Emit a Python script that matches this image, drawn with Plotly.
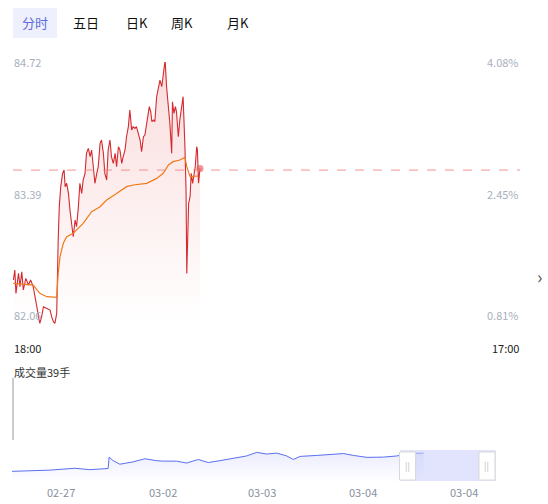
import plotly.graph_objs as go

# main intraday chart (minutes after 18:00)
t_min = [1, 5, 8, 15, 19, 24, 28, 35, 42, 48, 55, 60, 64, 69, 73, 78, 83, 92, 101, 105, 110, 114, 119, 123,
         126, 130, 135, 139, 142, 146, 151, 155, 160, 164, 169, 173, 178, 182, 187, 191, 196, 200, 205, 210,
         214, 219, 223, 228, 232, 237, 241, 246, 250, 255, 259, 264, 268, 273, 278, 282, 287, 291, 296, 300,
         305, 309, 314, 318, 323, 327, 332, 336, 341, 346, 350, 355, 359, 364, 368, 371, 375, 378, 382, 386,
         391, 395, 400, 405, 409, 414, 418, 423, 427, 432, 434, 438, 442, 445, 450, 454, 459, 463, 468, 471,
         473, 475, 478, 482, 485, 489, 492, 496, 500, 502, 505, 509]
price = [82.515, 82.616, 82.380, 82.582, 82.448, 82.599, 82.414, 82.532, 82.464, 82.515, 82.448, 82.346,
         82.245, 82.144, 82.077, 82.144, 82.245, 82.228, 82.211, 82.144, 82.093, 82.077, 82.178, 82.919,
         83.257, 83.459, 83.594, 83.627, 83.459, 83.493, 83.391, 83.223, 83.054, 82.953, 83.122, 83.054,
         83.257, 83.493, 83.391, 83.526, 83.594, 83.796, 83.846, 83.762, 83.830, 83.661, 83.493, 83.594,
         83.661, 83.897, 83.931, 83.796, 83.594, 83.526, 83.830, 83.931, 83.762, 83.695, 83.796, 83.661,
         83.863, 83.830, 83.695, 83.762, 83.830, 83.964, 84.066, 84.234, 84.032, 84.066, 84.049, 84.066,
         83.998, 83.931, 83.813, 83.964, 83.981, 84.099, 84.167, 84.268, 84.217, 84.116, 84.133, 84.116,
         84.369, 84.436, 84.537, 84.470, 84.571, 84.740, 84.470, 84.268, 84.099, 83.796, 84.318, 84.200,
         84.268, 84.217, 83.964, 84.133, 84.268, 84.369, 83.863, 83.425, 82.582, 83.054, 83.290, 83.358,
         83.594, 83.493, 83.560, 83.661, 83.863, 83.830, 83.493, 83.644]
avg_t = [1, 55, 73, 92, 119, 123, 128, 137, 146, 164, 191, 214, 237, 255, 282, 309, 327, 364, 391, 409,
         423, 436, 454, 468, 473, 482, 504]
avg_price = [82.481, 82.464, 82.380, 82.346, 82.340, 82.582, 82.751, 82.886, 82.953, 82.987, 83.088,
             83.206, 83.257, 83.324, 83.391, 83.459, 83.476, 83.493, 83.543, 83.594, 83.678, 83.712,
             83.729, 83.755, 83.661, 83.560, 83.567]
ref_price = 83.627
y_ticks = [82.06, 83.39, 84.72]
pct_labels = ["0.81%", "2.45%", "4.08%"]

# navigator overview
nav_x = [37, 150, 225, 270, 325, 328, 340, 360, 400, 435, 470, 490, 530, 560, 595, 625, 660, 700, 740,
         770, 800, 830, 860, 880, 900, 950, 1000, 1030, 1060, 1100, 1150, 1190, 1230, 1270]
nav_y = [45, 50, 58, 52, 57, 105, 90, 75, 85, 98, 90, 88, 88, 80, 95, 82, 90, 100, 110, 125, 118, 122,
         110, 95, 108, 112, 118, 120, 112, 104, 105, 110, 120, 122]
nav_labels = ["02-27", "03-02", "03-03", "03-04", "03-04"]
nav_label_x = [185, 490, 785, 1090, 1390]

tabs = ["分时", "五日", "日K", "周K", "月K"]
tab_x = [35, 86, 137, 182, 238]

W, H = 548, 504
def px(x): return x / W
def py(y): return 1 - y / H

fig = go.Figure()
fig.add_trace(go.Scatter(x=[t_min[0], t_min[-1]], y=[y_ticks[0]] * 2, mode="lines",
                         line=dict(width=0), hoverinfo="skip", showlegend=False))
fig.add_trace(go.Scatter(x=t_min, y=price, mode="lines", line=dict(color="#d42a30", width=1.1),
                         fill="tonexty",
                         fillgradient=dict(type="vertical",
                                           colorscale=[[0, "rgba(230,80,80,0)"], [1, "rgba(230,80,80,0.2)"]]),
                         showlegend=False))
fig.add_trace(go.Scatter(x=avg_t, y=avg_price, mode="lines", line=dict(color="#f07a1a", width=1.2),
                         showlegend=False))
fig.add_trace(go.Scatter(x=[t_min[-1]], y=[price[-1]], mode="markers",
                         marker=dict(color="rgba(230,80,80,0.6)", size=7), showlegend=False))

fig.add_trace(go.Scatter(x=nav_x, y=nav_y, mode="lines", line=dict(color="#5b6ff0", width=1),
                         fill="tozeroy",
                         fillgradient=dict(type="vertical",
                                           colorscale=[[0, "rgba(120,130,240,0)"], [1, "rgba(120,130,240,0.15)"]]),
                         xaxis="x2", yaxis="y2", showlegend=False))

fig.update_layout(
    width=W, height=H, margin=dict(l=0, r=0, t=0, b=0, autoexpand=False),
    plot_bgcolor="white", paper_bgcolor="white",
    font=dict(family="Noto Sans CJK SC", size=12),
    xaxis=dict(domain=[px(13), px(520)], range=[0, 1380], showticklabels=False,
               showgrid=False, zeroline=False),
    yaxis=dict(domain=[py(325), py(62)], range=[82.06, 84.72], showticklabels=False,
               showgrid=False, zeroline=False),
    xaxis2=dict(domain=[px(12), px(496)], range=[37, 1487], anchor="y2", showticklabels=False,
                showgrid=False, zeroline=False),
    yaxis2=dict(domain=[py(482), py(450)], range=[0, 135], anchor="x2", showticklabels=False,
                showgrid=False, zeroline=False),
)

shapes = [
    dict(type="line", xref="x", yref="y", x0=0, x1=1380, y0=ref_price, y1=ref_price,
         line=dict(color="rgba(240,120,120,0.8)", width=1, dash="dash")),
    dict(type="rect", xref="paper", yref="paper", x0=px(13), x1=px(57), y0=py(38), y1=py(8),
         fillcolor="#eef0fd", line=dict(width=0), layer="below"),
    dict(type="line", xref="paper", yref="paper", x0=px(13), x1=px(13), y0=py(440), y1=py(378),
         line=dict(color="#999", width=1)),
    dict(type="rect", xref="x2", yref="paper", x0=1200, x1=1487, y0=py(481), y1=py(450),
         fillcolor="rgba(200,205,250,0.55)", line=dict(width=0)),
]
for hx in [1222, 1460]:
    shapes.append(dict(type="rect", xref="x2", yref="paper", x0=hx - 24, x1=hx + 24, y0=py(480), y1=py(452),
                       fillcolor="white", line=dict(color="#d8d8d8", width=1)))
fig.update_layout(shapes=shapes)

ann = []
for i, (lab, x) in enumerate(zip(tabs, tab_x)):
    ann.append(dict(text=lab, x=px(x), y=py(23), xref="paper", yref="paper", showarrow=False,
                    xanchor="center", yanchor="middle",
                    font=dict(size=13, color="#5b6bdb" if i == 0 else "#111")))
for v, p in zip(y_ticks, pct_labels):
    ann.append(dict(text=f"{v:.2f}", x=px(12), xanchor="left", y=v, yref="y", xref="paper",
                    yanchor="bottom" if v == y_ticks[0] else "middle", showarrow=False,
                    font=dict(size=11, color="#a8b0bc")))
    ann.append(dict(text=p, x=px(521), xanchor="right", y=v, yref="y", xref="paper",
                    yanchor="bottom" if v == y_ticks[0] else "middle", showarrow=False,
                    font=dict(size=11, color="#a8b0bc")))
ann.append(dict(text="18:00", x=px(12), xanchor="left", y=py(348), xref="paper", yref="paper",
                yanchor="middle", showarrow=False, font=dict(size=11, color="#222")))
ann.append(dict(text="17:00", x=px(521), xanchor="right", y=py(348), xref="paper", yref="paper",
                yanchor="middle", showarrow=False, font=dict(size=11, color="#222")))
ann.append(dict(text="成交量39手", x=px(12), xanchor="left", y=py(372), xref="paper", yref="paper",
                yanchor="middle", showarrow=False, font=dict(size=11, color="#333")))
ann.append(dict(text="›", x=px(539), y=py(276), xref="paper", yref="paper", showarrow=False,
                xanchor="center", yanchor="middle", font=dict(size=18, color="#555")))
for lab, x in zip(nav_labels, nav_label_x):
    ann.append(dict(text=lab, x=x, xref="x2", y=py(492), yref="paper", showarrow=False,
                    xanchor="center", yanchor="middle", font=dict(size=11, color="#8890a0")))
for hx in [1222, 1460]:
    ann.append(dict(text="||", x=hx, xref="x2", y=py(466), yref="paper", showarrow=False,
                    xanchor="center", yanchor="middle", font=dict(size=9, color="#bbb")))
fig.update_layout(annotations=ann)

fig.write_html("out.html", config={"displayModeBar": False},
               post_script="document.body.style.margin='0';")
